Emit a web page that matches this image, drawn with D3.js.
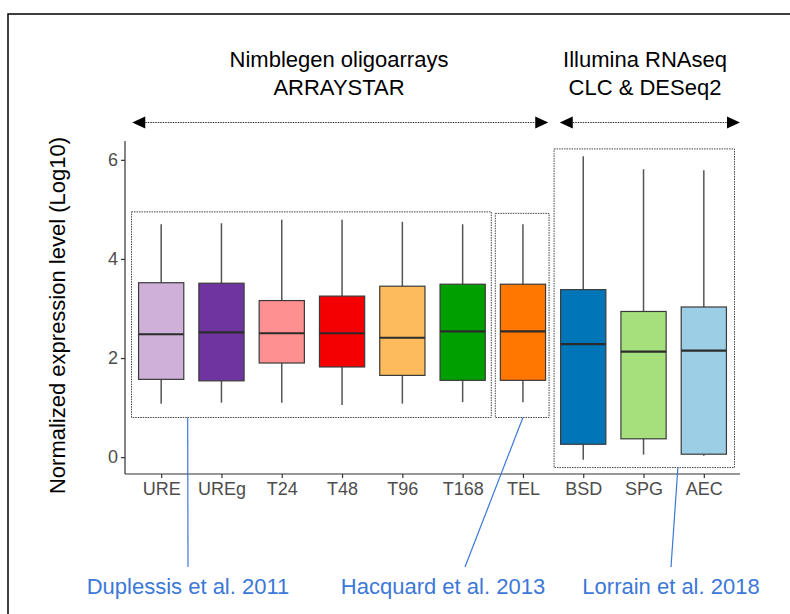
<!DOCTYPE html>
<html>
<head>
<meta charset="utf-8">
<script src="https://cdn.jsdelivr.net/npm/d3@7"></script>
<style>
  html, body { margin: 0; padding: 0; background: #fff; }
  svg { display: block; font-family: "Liberation Sans", Arial, Helvetica, sans-serif; }
</style>
</head>
<body>
<svg id="chart" width="790" height="614"></svg>
<script>
// Samples on the x axis
const categories = ["URE", "UREg", "T24", "T48", "T96", "T168", "TEL", "BSD", "SPG", "AEC"];
// Box-plot statistics (log10 normalized expression)
const whiskerLow  = [1.08, 1.10, 1.10, 1.05, 1.08, 1.11, 1.11, -0.05, 0.05, 0.03];
const q1          = [1.57, 1.54, 1.90, 1.82, 1.65, 1.55, 1.55, 0.26, 0.37, 0.06];
const median      = [2.48, 2.52, 2.50, 2.50, 2.41, 2.54, 2.54, 2.28, 2.13, 2.15];
const q3          = [3.52, 3.51, 3.16, 3.25, 3.45, 3.49, 3.49, 3.38, 2.94, 3.03];
const whiskerHigh = [4.70, 4.72, 4.79, 4.79, 4.75, 4.70, 4.70, 6.07, 5.81, 5.79];
const boxColors   = ["#cfb0d8", "#7034a0", "#ff9091", "#f50000", "#fdbb5c",
                     "#009f00", "#ff7700", "#0076b8", "#a6e07c", "#9ccfe6"];
const yTicks = [0, 2, 4, 6];

// Platform headers and the categories their arrows span
const platformLines = [["Nimblegen oligoarrays", "ARRAYSTAR"], ["Illumina RNAseq", "CLC & DESeq2"]];
const platformFrom  = ["URE", "BSD"];
const platformTo    = ["TEL", "AEC"];

// Dataset groups: dotted frame around categories (value range) and a cited reference
const studyLabels = ["Duplessis et al. 2011", "Hacquard et al. 2013", "Lorrain et al. 2018"];
const studyFrom   = ["URE", "TEL", "BSD"];
const studyTo     = ["T168", "TEL", "AEC"];
const studyTop    = [4.95, 4.92, 6.22];
const studyBottom = [0.80, 0.80, -0.21];

const svg = d3.select("#chart");
const plot = { left: 125, right: 740, top: 141, bottom: 474 };

const x = d3.scalePoint().domain(categories)
  .range([plot.left, plot.right]).padding(0.6);
const step = x.step();
const boxW = step * 0.75;
const y = d3.scaleLinear().domain([-0.34, 6.38]).range([plot.bottom, plot.top]);

// Outer frame (top and left edges)
svg.append("path")
  .attr("d", "M8,614 V14 H790")
  .attr("fill", "none").attr("stroke", "#000").attr("stroke-width", 1.5);

// Axes
const yAxis = svg.append("g").attr("transform", `translate(${plot.left},0)`)
  .call(d3.axisLeft(y).tickValues(yTicks).tickSize(4).tickPadding(3).tickFormat(d3.format("d")));
const xAxis = svg.append("g").attr("transform", `translate(0,${plot.bottom})`)
  .call(d3.axisBottom(x).tickSize(4).tickPadding(4));
[yAxis, xAxis].forEach(g => {
  g.select(".domain").attr("stroke", "#333").attr("stroke-width", 1.2);
  g.selectAll(".tick line").attr("stroke", "#333").attr("stroke-width", 1.2);
  g.selectAll(".tick text").attr("fill", "#4d4d4d").attr("font-size", 18)
    .attr("font-family", "'Liberation Sans', Arial, sans-serif");
});
yAxis.select(".domain").attr("d", `M0,${plot.top}V${plot.bottom}`);
xAxis.select(".domain").attr("d", `M${plot.left},0H${plot.right}`);

// Y axis title
svg.append("text")
  .attr("transform", `translate(65,${(plot.top + plot.bottom) / 2 + 8}) rotate(-90)`)
  .attr("text-anchor", "middle").attr("font-size", 22).attr("fill", "#000")
  .text("Normalized expression level (Log10)");

// Boxes: whiskers, inter-quartile box and median bar
const boxes = svg.append("g").selectAll("g").data(categories).join("g");
boxes.append("line")
  .attr("x1", d => x(d)).attr("x2", d => x(d))
  .attr("y1", (d, i) => y(whiskerHigh[i])).attr("y2", (d, i) => y(q3[i]))
  .attr("stroke", "#555").attr("stroke-width", 1.5);
boxes.append("line")
  .attr("x1", d => x(d)).attr("x2", d => x(d))
  .attr("y1", (d, i) => y(q1[i])).attr("y2", (d, i) => y(whiskerLow[i]))
  .attr("stroke", "#555").attr("stroke-width", 1.5);
boxes.append("rect")
  .attr("x", d => x(d) - boxW / 2).attr("width", boxW)
  .attr("y", (d, i) => y(q3[i])).attr("height", (d, i) => y(q1[i]) - y(q3[i]))
  .attr("fill", (d, i) => boxColors[i]).attr("stroke", "#3a3a3a").attr("stroke-width", 1.2);
boxes.append("line")
  .attr("x1", d => x(d) - boxW / 2).attr("x2", d => x(d) + boxW / 2)
  .attr("y1", (d, i) => y(median[i])).attr("y2", (d, i) => y(median[i]))
  .attr("stroke", "#2b2b2b").attr("stroke-width", 2.2);

// Dotted study frames (small insets so neighbouring frames don't touch)
const insetLeft  = [0.5, 2.5, 1];
const insetRight = [1.5, 4, -0.5];
const frames = studyLabels.map((s, k) => ({
  x0: x(studyFrom[k]) - step / 2 + insetLeft[k],
  x1: x(studyTo[k]) + step / 2 - insetRight[k],
  top: y(studyTop[k]),
  bottom: y(studyBottom[k])
}));
svg.append("g").selectAll("rect").data(frames).join("rect")
  .attr("x", d => d.x0).attr("y", d => d.top)
  .attr("width", d => d.x1 - d.x0).attr("height", d => d.bottom - d.top)
  .attr("fill", "none").attr("stroke", "#444").attr("stroke-width", 1)
  .attr("stroke-dasharray", "1.5,1");

// Citation leaders and labels
const blue = "#3c78d8";
const leaderTop = [x("URE") + step * 0.44, x("TEL"), x("AEC") - step * 0.43];
const leaderEnd = [188, 465, 671];
const labelX = [188, 443, 671];
studyLabels.forEach((label, k) => {
  svg.append("line")
    .attr("x1", leaderTop[k]).attr("y1", frames[k].bottom)
    .attr("x2", leaderEnd[k]).attr("y2", 567)
    .attr("stroke", blue).attr("stroke-width", 1.2);
  svg.append("text")
    .attr("x", labelX[k]).attr("y", 594)
    .attr("text-anchor", "middle").attr("font-size", 22).attr("fill", blue)
    .text(label);
});

// Platform headers and double-headed dotted arrows
const arrowY = 122.5;
const head = 13, half = 6;
const arrowPadLeft  = [0.48, 0.39];
const arrowPadRight = [0.42, 0.6];
const headerX = [339, 645];
platformLines.forEach((lines, k) => {
  const a = x(platformFrom[k]) - step * arrowPadLeft[k];
  const b = x(platformTo[k]) + step * arrowPadRight[k];
  lines.forEach((ln, j) => {
    svg.append("text")
      .attr("x", headerX[k]).attr("y", 67 + j * 28)
      .attr("text-anchor", "middle").attr("font-size", 22).attr("fill", "#000")
      .text(ln);
  });
  svg.append("line")
    .attr("x1", a + head).attr("x2", b - head).attr("y1", arrowY).attr("y2", arrowY)
    .attr("stroke", "#333").attr("stroke-width", 1).attr("stroke-dasharray", "1.5,1");
  svg.append("path")
    .attr("d", `M${a},${arrowY} L${a + head},${arrowY - half} L${a + head},${arrowY + half} Z`)
    .attr("fill", "#000");
  svg.append("path")
    .attr("d", `M${b},${arrowY} L${b - head},${arrowY - half} L${b - head},${arrowY + half} Z`)
    .attr("fill", "#000");
});
</script>
</body>
</html>
